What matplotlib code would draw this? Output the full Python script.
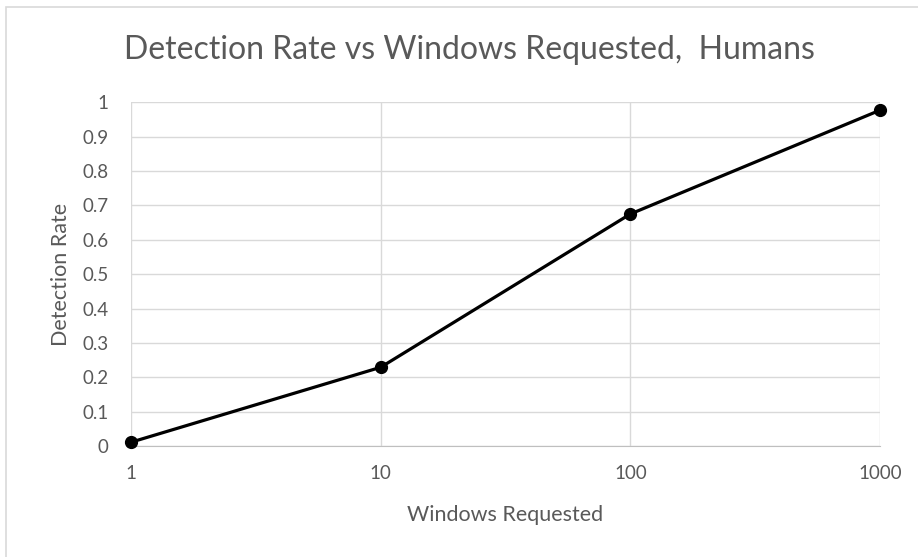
import matplotlib.pyplot as plt
from matplotlib.patches import Rectangle

windows = [1, 10, 100, 1000]
detection_rate = [0.011, 0.229, 0.675, 0.977]
y_ticks = [0, 0.1, 0.2, 0.3, 0.4, 0.5, 0.6, 0.7, 0.8, 0.9, 1]
y_labels = ["0", "0.1", "0.2", "0.3", "0.4", "0.5", "0.6", "0.7", "0.8", "0.9", "1"]
x_labels = ["1", "10", "100", "1000"]

plt.rcParams['font.family'] = ['Lato', 'DejaVu Sans']
text_col = '#595959'
grid_col = '#d9d9d9'

fig = plt.figure(figsize=(9.18, 5.57), dpi=100)
ax = fig.add_axes([131/918, 1 - 446/557, (880 - 131)/918, (446 - 102.3)/557])

# chart border like the excel chart area
fig.patches.append(Rectangle((6/918, -0.1), 1.1, 1 - 7/557 + 0.1, transform=fig.transFigure,
                             fill=False, edgecolor='#d9d9d9', linewidth=1.2))

ax.plot(windows, detection_rate, color='black', linewidth=2.3, marker='o',
        markersize=8.5, zorder=3, clip_on=False)

ax.set_xscale('log')
ax.set_xlim(1, 1000)
ax.set_ylim(0, 1)
ax.set_xticks(windows)
ax.set_xticklabels(x_labels)
ax.minorticks_off()
ax.set_yticks(y_ticks)
ax.set_yticklabels(y_labels)
ax.grid(True, color=grid_col, linewidth=1)
ax.set_axisbelow(True)
for s in ['top', 'right', 'left']:
    ax.spines[s].set_visible(False)
ax.spines['bottom'].set_color('#bfbfbf')
ax.tick_params(length=0, labelcolor=text_col, labelsize=13.5)
ax.tick_params(axis='x', pad=14)
ax.tick_params(axis='y', pad=16)

ax.set_xlabel('Windows Requested', color=text_col, fontsize=15.5, labelpad=16)
ax.set_ylabel('Detection Rate', color=text_col, fontsize=15.5, labelpad=8)
fig.text(469.5/918, 1 - 59/557, 'Detection Rate vs Windows Requested,  Humans',
         ha='center', va='baseline', color=text_col, fontsize=23)

fig.savefig('out.png', dpi=100)
